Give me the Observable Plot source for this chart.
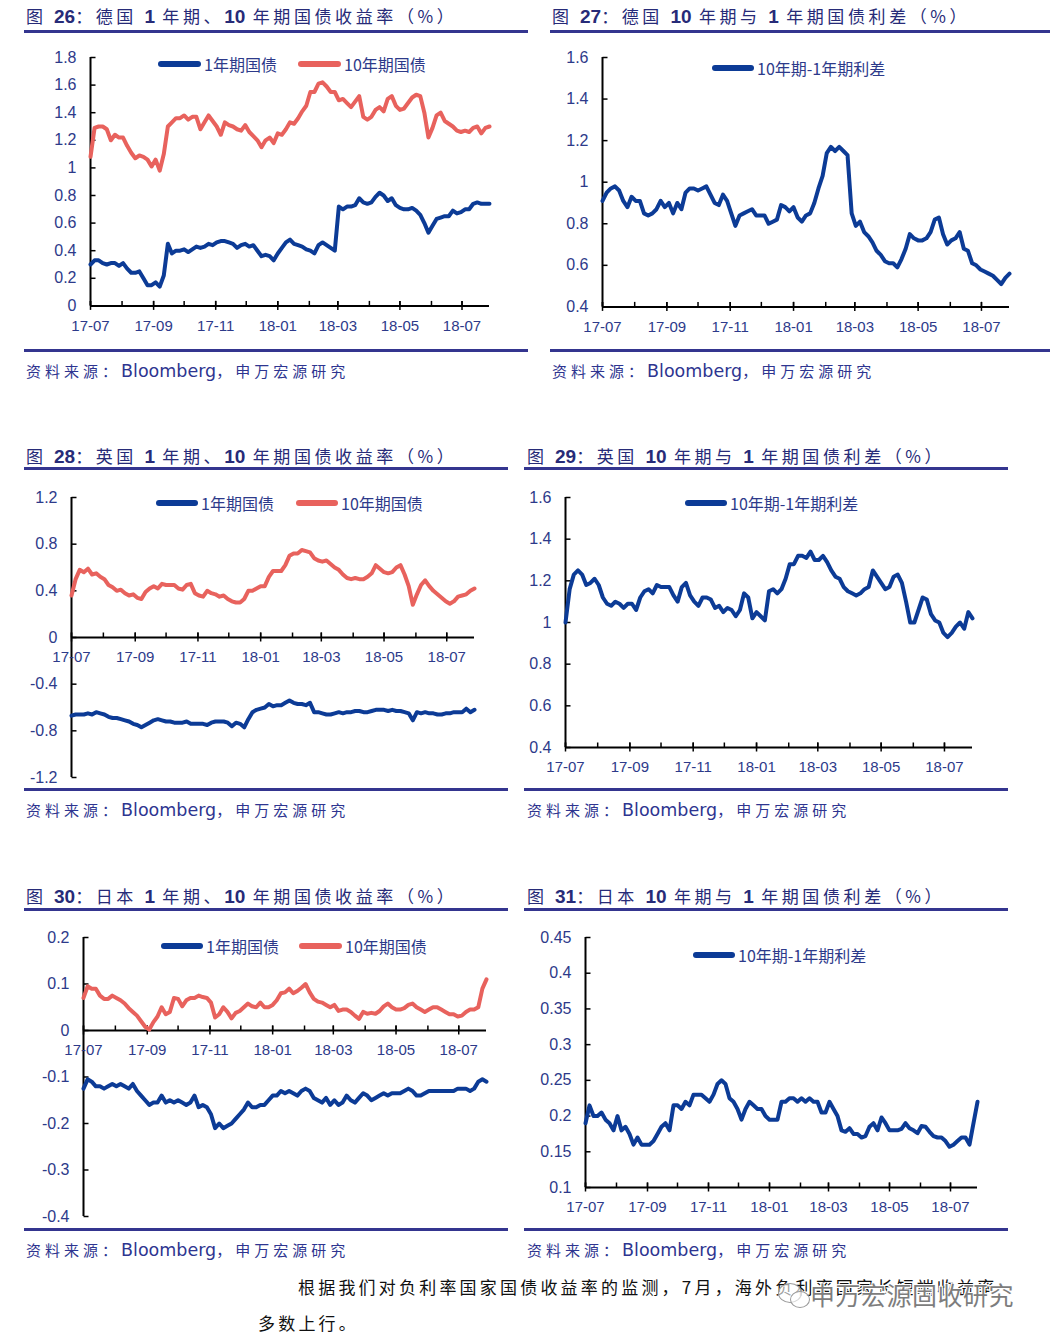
<!DOCTYPE html>
<html><head><meta charset="utf-8">
<script src="https://cdn.jsdelivr.net/npm/d3@7"></script>
<script src="https://cdn.jsdelivr.net/npm/@observablehq/plot@0.6"></script>
<style>
body{margin:0;background:#fff;}
#page{position:relative;width:1051px;height:1341px;overflow:hidden;font-family:"Noto Sans CJK SC",sans-serif;background:#fff;}
.title{position:absolute;font-size:17px;color:#272b78;letter-spacing:3.6px;white-space:nowrap;line-height:20px;}
.title b{font-family:"Liberation Sans",Arial,sans-serif;font-size:19px;font-weight:700;letter-spacing:0;}
.rule{position:absolute;height:3px;background:#34358f;}
.src{position:absolute;font-size:15px;color:#2e3590;letter-spacing:4px;white-space:nowrap;line-height:20px;}
.src span{font-family:"DejaVu Sans",sans-serif;font-size:17.5px;letter-spacing:0;}
.leg{position:absolute;font-size:16px;color:#2d3a8a;white-space:nowrap;line-height:20px;}
.sw{position:absolute;height:6px;border-radius:3px;}
svg.chart{position:absolute;overflow:visible;}
.para{position:absolute;font-size:17px;color:#111;letter-spacing:2.4px;white-space:nowrap;line-height:22px;font-family:"Noto Sans CJK SC",serif;}
.wm{position:absolute;font-size:25px;color:#7d7d7d;white-space:nowrap;line-height:30px;letter-spacing:0.5px;
  text-shadow:-1px -1px 0 #fff,1px -1px 0 #fff,-1px 1px 0 #fff,1px 1px 0 #fff;}
.bub{position:absolute;border:1.5px solid #9a9a9a;border-radius:50%;background:rgba(255,255,255,0.6);}
</style></head>
<body><div id="page"></div>
<script>
// ---------- data ----------
const startDate = new Date(Date.UTC(2017, 6, 1));
const endDate = new Date(Date.UTC(2018, 6, 28));
const stepDays = 4;
const nPoints = 99;
const dates = d3.range(nPoints).map(i => d3.utcDay.offset(startDate, stepDays * i));

const xTickLabels = ["17-07","17-09","17-11","18-01","18-03","18-05","18-07"];
const monthTicks = d3.utcMonth.range(startDate, endDate);

const de1y = [0.30,0.33,0.33,0.31,0.30,0.31,0.31,0.29,0.31,0.27,
0.24,0.24,0.25,0.20,0.15,0.15,0.17,0.14,0.22,0.45,
0.38,0.40,0.40,0.41,0.39,0.41,0.43,0.42,0.43,0.45,
0.44,0.46,0.47,0.47,0.46,0.45,0.42,0.44,0.45,0.43,
0.44,0.40,0.36,0.37,0.36,0.33,0.38,0.42,0.46,0.48,
0.45,0.44,0.43,0.41,0.40,0.38,0.44,0.46,0.44,0.42,
0.40,0.72,0.70,0.72,0.72,0.73,0.78,0.75,0.74,0.75,
0.79,0.82,0.80,0.76,0.78,0.73,0.71,0.70,0.70,0.71,
0.69,0.66,0.60,0.53,0.58,0.63,0.64,0.65,0.65,0.69,
0.67,0.68,0.70,0.70,0.74,0.75,0.74,0.74,0.74];
const de10y = [1.08,1.29,1.30,1.30,1.28,1.20,1.24,1.22,1.22,1.16,
1.11,1.07,1.09,1.08,1.06,1.01,1.06,0.98,1.10,1.30,
1.33,1.36,1.36,1.38,1.35,1.37,1.37,1.28,1.33,1.38,
1.34,1.30,1.24,1.33,1.31,1.30,1.28,1.27,1.31,1.26,
1.23,1.20,1.15,1.20,1.22,1.18,1.25,1.24,1.28,1.33,
1.32,1.36,1.41,1.45,1.55,1.55,1.61,1.62,1.59,1.55,
1.55,1.49,1.50,1.47,1.44,1.48,1.52,1.37,1.35,1.37,
1.42,1.44,1.41,1.50,1.52,1.45,1.42,1.43,1.47,1.51,
1.53,1.52,1.40,1.22,1.29,1.38,1.40,1.34,1.32,1.30,
1.27,1.26,1.27,1.26,1.29,1.30,1.25,1.29,1.30];
const deSpread = [0.91,0.95,0.97,0.98,0.96,0.91,0.88,0.93,0.91,0.91,
0.85,0.84,0.85,0.87,0.91,0.88,0.90,0.85,0.90,0.87,
0.95,0.97,0.97,0.96,0.97,0.98,0.94,0.90,0.89,0.94,
0.91,0.85,0.79,0.84,0.85,0.86,0.87,0.84,0.84,0.84,
0.80,0.81,0.82,0.89,0.88,0.86,0.88,0.83,0.81,0.84,
0.85,0.90,0.97,1.03,1.14,1.17,1.15,1.17,1.15,1.13,
0.85,0.79,0.81,0.76,0.74,0.71,0.67,0.65,0.62,0.61,
0.61,0.59,0.63,0.68,0.75,0.73,0.72,0.72,0.73,0.76,
0.82,0.83,0.75,0.70,0.72,0.73,0.76,0.68,0.67,0.61,
0.60,0.58,0.57,0.56,0.55,0.53,0.51,0.54,0.56];
const uk1y = [-0.67,-0.66,-0.66,-0.66,-0.65,-0.66,-0.64,-0.65,-0.66,-0.68,
-0.69,-0.69,-0.70,-0.71,-0.72,-0.74,-0.75,-0.77,-0.75,-0.73,
-0.71,-0.70,-0.71,-0.72,-0.72,-0.73,-0.73,-0.73,-0.72,-0.74,
-0.74,-0.74,-0.74,-0.75,-0.73,-0.72,-0.72,-0.72,-0.73,-0.76,
-0.73,-0.74,-0.77,-0.70,-0.64,-0.62,-0.61,-0.60,-0.57,-0.59,
-0.58,-0.58,-0.56,-0.54,-0.56,-0.57,-0.57,-0.58,-0.56,-0.64,
-0.64,-0.65,-0.66,-0.66,-0.65,-0.64,-0.65,-0.64,-0.64,-0.63,
-0.63,-0.64,-0.64,-0.63,-0.62,-0.62,-0.62,-0.63,-0.62,-0.63,
-0.63,-0.64,-0.65,-0.71,-0.64,-0.65,-0.64,-0.65,-0.65,-0.66,
-0.66,-0.65,-0.65,-0.64,-0.64,-0.64,-0.61,-0.64,-0.62];
const uk10y = [0.36,0.50,0.58,0.56,0.59,0.54,0.55,0.52,0.50,0.45,
0.43,0.40,0.41,0.38,0.36,0.37,0.34,0.33,0.39,0.42,
0.44,0.42,0.46,0.45,0.45,0.45,0.42,0.41,0.45,0.46,
0.38,0.36,0.35,0.40,0.38,0.37,0.35,0.36,0.33,0.31,
0.30,0.30,0.33,0.40,0.40,0.42,0.44,0.44,0.52,0.57,
0.57,0.57,0.62,0.70,0.72,0.72,0.75,0.74,0.73,0.68,
0.66,0.65,0.66,0.63,0.60,0.58,0.54,0.51,0.50,0.51,
0.50,0.50,0.52,0.55,0.62,0.59,0.56,0.55,0.56,0.60,
0.62,0.54,0.44,0.28,0.37,0.45,0.49,0.44,0.40,0.37,
0.34,0.31,0.29,0.31,0.35,0.36,0.37,0.40,0.42];
const ukSpread = [1.00,1.16,1.23,1.25,1.23,1.18,1.19,1.21,1.18,1.12,
1.09,1.08,1.10,1.09,1.07,1.09,1.09,1.06,1.12,1.15,
1.16,1.14,1.18,1.17,1.17,1.17,1.13,1.10,1.17,1.19,
1.13,1.10,1.08,1.12,1.12,1.11,1.07,1.08,1.05,1.07,
1.06,1.03,1.06,1.14,1.12,1.02,1.05,1.03,1.01,1.15,
1.16,1.14,1.16,1.21,1.28,1.28,1.32,1.32,1.31,1.34,
1.30,1.30,1.32,1.29,1.25,1.22,1.21,1.17,1.15,1.14,
1.13,1.14,1.16,1.17,1.25,1.22,1.19,1.16,1.17,1.22,
1.23,1.19,1.10,1.00,1.00,1.06,1.12,1.11,1.04,1.01,
1.00,0.95,0.93,0.95,0.98,1.00,0.97,1.05,1.02];
const jp1y = [-0.125,-0.105,-0.11,-0.12,-0.12,-0.125,-0.12,-0.115,-0.12,-0.115,
-0.12,-0.125,-0.115,-0.13,-0.14,-0.15,-0.16,-0.155,-0.155,-0.14,
-0.155,-0.15,-0.155,-0.15,-0.155,-0.16,-0.155,-0.14,-0.165,-0.16,
-0.165,-0.18,-0.21,-0.20,-0.21,-0.205,-0.2,-0.19,-0.18,-0.17,
-0.155,-0.165,-0.165,-0.16,-0.16,-0.15,-0.14,-0.14,-0.13,-0.135,
-0.13,-0.135,-0.14,-0.13,-0.125,-0.13,-0.145,-0.15,-0.155,-0.145,
-0.16,-0.15,-0.16,-0.155,-0.14,-0.15,-0.155,-0.145,-0.135,-0.14,
-0.15,-0.145,-0.14,-0.135,-0.14,-0.135,-0.135,-0.135,-0.13,-0.125,
-0.13,-0.14,-0.14,-0.135,-0.13,-0.13,-0.13,-0.13,-0.13,-0.13,
-0.13,-0.125,-0.125,-0.125,-0.13,-0.125,-0.11,-0.105,-0.11];
const jp10y = [0.07,0.095,0.09,0.09,0.075,0.068,0.068,0.075,0.07,0.065,
0.058,0.048,0.04,0.032,0.02,0.008,0.002,0.018,0.03,0.05,
0.035,0.04,0.07,0.068,0.052,0.065,0.07,0.07,0.075,0.072,
0.07,0.06,0.028,0.035,0.05,0.04,0.026,0.038,0.042,0.05,
0.058,0.052,0.05,0.06,0.05,0.05,0.055,0.065,0.08,0.082,
0.09,0.08,0.085,0.092,0.10,0.082,0.068,0.062,0.06,0.055,
0.05,0.055,0.042,0.045,0.045,0.04,0.032,0.025,0.04,0.036,
0.038,0.036,0.042,0.052,0.058,0.05,0.045,0.045,0.048,0.055,
0.058,0.05,0.045,0.04,0.045,0.05,0.05,0.045,0.04,0.035,
0.035,0.03,0.032,0.04,0.045,0.045,0.05,0.09,0.11];
const jpSpread = [0.19,0.215,0.20,0.20,0.205,0.195,0.19,0.18,0.20,0.18,
0.185,0.175,0.16,0.17,0.16,0.16,0.16,0.165,0.175,0.185,
0.19,0.18,0.215,0.215,0.21,0.22,0.215,0.23,0.23,0.23,
0.225,0.22,0.23,0.245,0.25,0.245,0.225,0.22,0.21,0.195,
0.21,0.22,0.215,0.21,0.21,0.20,0.195,0.195,0.195,0.22,
0.22,0.225,0.225,0.22,0.225,0.22,0.225,0.22,0.22,0.205,
0.205,0.22,0.21,0.20,0.18,0.178,0.183,0.175,0.175,0.17,
0.172,0.185,0.19,0.18,0.198,0.19,0.18,0.18,0.18,0.182,
0.19,0.183,0.18,0.176,0.186,0.185,0.178,0.172,0.17,0.17,
0.165,0.157,0.16,0.165,0.17,0.17,0.16,0.19,0.22];

const yTicks26 = [0,0.2,0.4,0.6,0.8,1,1.2,1.4,1.6,1.8];
const yTicks27 = [0.4,0.6,0.8,1,1.2,1.4,1.6];
const yTicks28 = [-1.2,-0.8,-0.4,0,0.4,0.8,1.2];
const yTicks29 = [0.4,0.6,0.8,1,1.2,1.4,1.6];
const yTicks30 = [-0.4,-0.3,-0.2,-0.1,0,0.1,0.2];
const yTicks31 = [0.1,0.15,0.2,0.25,0.3,0.35,0.4,0.45];

const name1y = "1年期国债", name10y = "10年期国债", nameSpread = "10年期-1年期利差";
const titles = [
  ["图 ","26","：德国 ","1"," 年期、","10"," 年期国债收益率（%）"],
  ["图 ","27","：德国 ","10"," 年期与 ","1"," 年期国债利差（%）"],
  ["图 ","28","：英国 ","1"," 年期、","10"," 年期国债收益率（%）"],
  ["图 ","29","：英国 ","10"," 年期与 ","1"," 年期国债利差（%）"],
  ["图 ","30","：日本 ","1"," 年期、","10"," 年期国债收益率（%）"],
  ["图 ","31","：日本 ","10"," 年期与 ","1"," 年期国债利差（%）"]
];
const sourceText = ["资料来源：","Bloomberg","，申万宏源研究"];
const paraLines = ["根据我们对负利率国家国债收益率的监测，7月，海外负利率国家长短端收益率", "多数上行。"];
const watermark = "申万宏源固收研究";

// ---------- style ----------
const BLUE = "#0c3b96", RED = "#e8625d", LBL = "#2d3a8a";
const page = document.getElementById("page");
const fmt = d => String(Math.round(d * 100) / 100);
const tickRight = {draw(c){ c.moveTo(0,0); c.lineTo(5,0); }};
const tickUp = {draw(c){ c.moveTo(0,0); c.lineTo(0,-5); }};
const tickCross = {draw(c){ c.moveTo(0,4); c.lineTo(0,-5); }};
const labelMonths = xTickLabels.map(s => new Date(Date.UTC(2000 + +s.slice(0,2), +s.slice(3) - 1, 1)));

function el(cls, left, top, html, extra) {
  const d = document.createElement("div");
  d.className = cls; d.style.left = left + "px"; d.style.top = top + "px";
  if (html != null) d.innerHTML = html;
  if (extra) Object.assign(d.style, extra);
  page.appendChild(d); return d;
}

function chart(cfg) {
  const mL = 60, mR = 20, mT = 15, mB = 40;
  const marks = [
    Plot.ruleY([cfg.xAxisAt], {x1: () => startDate, x2: () => endDate, stroke: "#000", strokeWidth: 2}),
    Plot.ruleX([startDate], {y1: cfg.yDomain[0], y2: cfg.yDomain[1], stroke: "#000", strokeWidth: 2}),
    Plot.dot(cfg.yTicks, {x: () => startDate, y: d => d, symbol: tickRight, stroke: "#000", fill: "none", strokeWidth: 1.5}),
    Plot.dot(monthTicks, {x: d => d, y: () => cfg.xAxisAt, symbol: tickUp, stroke: "#000", fill: "none", strokeWidth: 1.5}),
    Plot.dot(labelMonths, {x: d => d, y: () => cfg.xAxisAt, symbol: tickCross, stroke: "#000", fill: "none", strokeWidth: 1.5}),
    Plot.text(cfg.yTicks, {x: () => startDate, y: d => d, text: fmt, textAnchor: "end", dx: -14, fontSize: 16, fill: LBL}),
    Plot.text(labelMonths, {x: d => d, y: () => cfg.xAxisAt, text: (d, i) => xTickLabels[i], dy: 20, fontSize: 15, fill: LBL})
  ];
  for (const s of cfg.series) {
    const rows = dates.map((d, i) => ({date: d, v: s.values[i]}));
    marks.push(Plot.line(rows, {x: "date", y: "v", stroke: s.color, strokeWidth: 4, strokeLinejoin: "round", strokeLinecap: "round"}));
  }
  const svg = Plot.plot({
    width: (cfg.x1 - cfg.x0) + mL + mR,
    height: (cfg.yBot - cfg.yTop) + mT + mB,
    marginLeft: mL, marginRight: mR, marginTop: mT, marginBottom: mB,
    x: {type: "utc", domain: [startDate, endDate], axis: null},
    y: {domain: cfg.yDomain, axis: null},
    style: {fontFamily: "'Liberation Sans', Arial, sans-serif", background: "transparent", overflow: "visible"},
    marks
  });
  svg.classList.add("chart");
  svg.style.left = (cfg.x0 - mL) + "px";
  svg.style.top = (cfg.yTop - mT) + "px";
  page.appendChild(svg);
}

function panel(p) {
  const t = titles[p.t];
  el("title", p.tx, p.ty, t.map((s, i) => i % 2 ? `<b>${s}</b>` : s).join(""));
  el("rule", p.rx0, p.r1, null, {width: (p.rx1 - p.rx0) + "px"});
  el("rule", p.rx0, p.r2, null, {width: (p.rx1 - p.rx0) + "px"});
  el("src", p.tx, p.r2 + 12, `${sourceText[0]}<span>${sourceText[1]}</span>${sourceText[2]}`);
}

function legend(items) {
  for (const it of items) {
    el("sw", it.sx, it.y - 3, null, {width: it.sw + "px", background: it.color});
    el("leg", it.sx + it.sw + 3, it.y - 10, it.text);
  }
}

// ---------- panels ----------
panel({t: 0, tx: 26, ty: 6, rx0: 24, rx1: 528, r1: 30, r2: 349});
panel({t: 1, tx: 552, ty: 6, rx0: 550, rx1: 1050, r1: 30, r2: 349});
panel({t: 2, tx: 26, ty: 446, rx0: 24, rx1: 508, r1: 467, r2: 788});
panel({t: 3, tx: 527, ty: 446, rx0: 524, rx1: 1008, r1: 467, r2: 788});
panel({t: 4, tx: 26, ty: 886, rx0: 24, rx1: 508, r1: 908, r2: 1228});
panel({t: 5, tx: 527, ty: 886, rx0: 524, rx1: 1008, r1: 908, r2: 1228});

chart({x0: 90, x1: 489, yTop: 57.3, yBot: 305.7, yDomain: [0, 1.8], yTicks: yTicks26, xAxisAt: 0,
  series: [{values: de1y, color: BLUE}, {values: de10y, color: RED}]});
chart({x0: 602, x1: 1009, yTop: 57.3, yBot: 306.7, yDomain: [0.4, 1.6], yTicks: yTicks27, xAxisAt: 0.4,
  series: [{values: deSpread, color: BLUE}]});
chart({x0: 71, x1: 474, yTop: 496.7, yBot: 776.7, yDomain: [-1.2, 1.2], yTicks: yTicks28, xAxisAt: 0,
  series: [{values: uk1y, color: BLUE}, {values: uk10y, color: RED}]});
chart({x0: 565, x1: 972, yTop: 496.7, yBot: 746.7, yDomain: [0.4, 1.6], yTicks: yTicks29, xAxisAt: 0.4,
  series: [{values: ukSpread, color: BLUE}]});
chart({x0: 83, x1: 486, yTop: 936.7, yBot: 1215.7, yDomain: [-0.4, 0.2], yTicks: yTicks30, xAxisAt: 0,
  series: [{values: jp1y, color: BLUE}, {values: jp10y, color: RED}]});
chart({x0: 585, x1: 977, yTop: 936.7, yBot: 1186.7, yDomain: [0.1, 0.45], yTicks: yTicks31, xAxisAt: 0.1,
  series: [{values: jpSpread, color: BLUE}]});

legend([{sx: 158, sw: 43, y: 64, color: BLUE, text: name1y}, {sx: 298, sw: 43, y: 64, color: RED, text: name10y}]);
legend([{sx: 712, sw: 42, y: 68, color: BLUE, text: nameSpread}]);
legend([{sx: 156, sw: 42, y: 503, color: BLUE, text: name1y}, {sx: 296, sw: 42, y: 503, color: RED, text: name10y}]);
legend([{sx: 685, sw: 42, y: 503, color: BLUE, text: nameSpread}]);
legend([{sx: 161, sw: 42, y: 946, color: BLUE, text: name1y}, {sx: 299, sw: 43, y: 946, color: RED, text: name10y}]);
legend([{sx: 693, sw: 42, y: 955, color: BLUE, text: nameSpread}]);

// ---------- paragraph + watermark ----------
el("para", 298, 1276, paraLines[0], {letterSpacing: "3.2px"});
el("para", 258, 1312, paraLines[1], {letterSpacing: "3.2px"});
el("bub", 778, 1283, null, {width: "22px", height: "18px"});
el("bub", 790, 1291, null, {width: "18px", height: "15px"});
el("wm", 810, 1279, watermark);
</script></body></html>
